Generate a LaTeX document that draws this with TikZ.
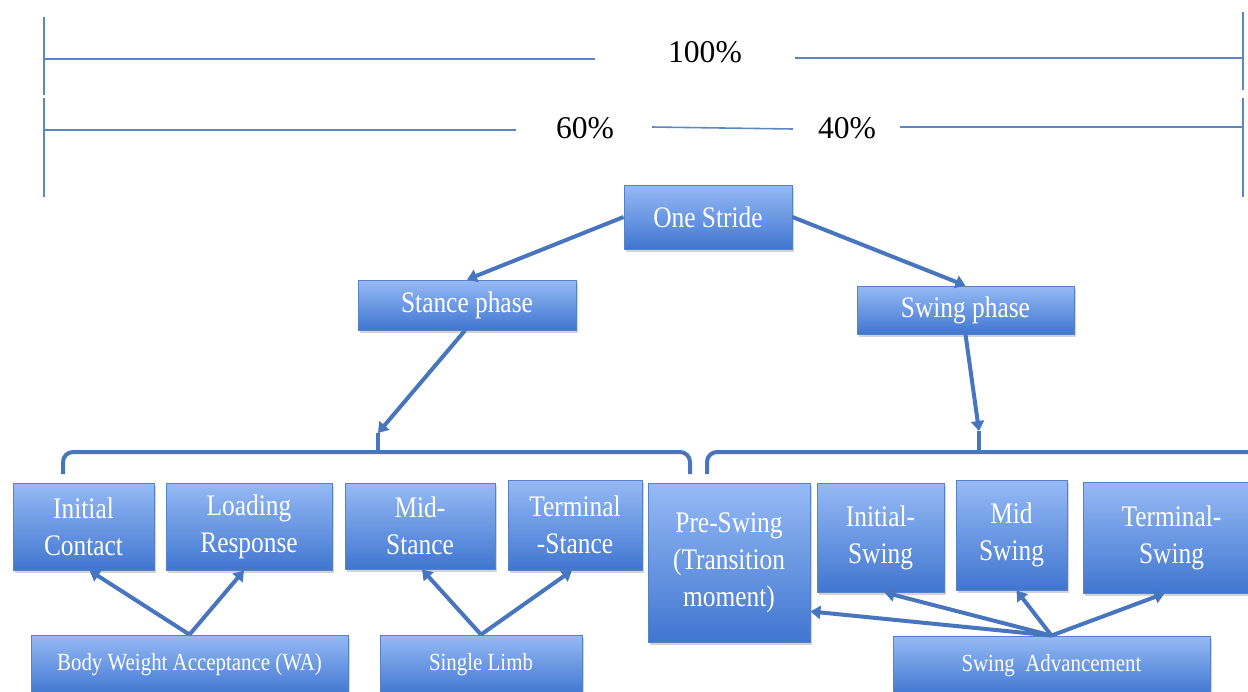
\documentclass[tikz,border=0pt]{standalone}
\usepackage{fontspec}
\setmainfont{Liberation Serif}
\newfontfamily\boxfont[FakeStretch=0.85]{Liberation Serif}
\usetikzlibrary{arrows.meta,shadows,calc}

\definecolor{boxtop}{RGB}{150,186,245}
\definecolor{boxbot}{RGB}{64,118,208}
\definecolor{boxedge}{RGB}{88,130,200}
\definecolor{linkblue}{RGB}{72,118,190}
\definecolor{scaleblue}{RGB}{92,135,195}

\tikzset{
  phasebox/.style={draw=boxedge, line width=0.5pt, top color=boxtop, bottom color=boxbot,
    drop shadow={opacity=0.35, shadow xshift=1pt, shadow yshift=-1.5pt},
    text=white, align=center, inner sep=2pt,
    font=\boxfont\fontsize{17}{21}\selectfont},
  groupbox/.style={phasebox, font=\boxfont\fontsize{14}{17}\selectfont},
  link/.style={draw=linkblue, line width=0.08cm, -{Triangle[width=0.26cm,length=0.2cm]}},
  brace/.style={draw=linkblue, line width=0.08cm, rounded corners=0.2cm},
  scaleline/.style={draw=scaleblue, line width=0.9pt},
  pct/.style={font=\fontsize{18}{21}\selectfont, inner sep=0pt},
}

\begin{document}
\begin{tikzpicture}[x=0.02cm, y=-0.02cm]
    \useasboundingbox (0,0) rectangle (1248,691);

    % Percentage scale
    \draw[scaleline] (44,17) -- (44,95);
    \draw[scaleline] (44,98) -- (44,197);
    \draw[scaleline] (1243,12) -- (1243,90);
    \draw[scaleline] (1243,98) -- (1243,197);
    \draw[scaleline] (44,59) -- (595,59);
    \draw[scaleline] (795,58) -- (1243,58);
    \draw[scaleline] (44,130) -- (516,130);
    \draw[scaleline] (652,127) -- (793,129);
    \draw[scaleline] (900,127) -- (1243,127);
    \node[pct] (full) at (705,52) {100\%};
    \node[pct] (stpct) at (585,128) {60\%};
    \node[pct] (swpct) at (847,128) {40\%};

    % Stride and phases
    \node[phasebox, minimum width=3.36cm, minimum height=1.28cm] (stride) at (708,217) {One Stride};
    \node[phasebox, minimum width=4.36cm, minimum height=1cm] (stance) at (467,305) {Stance phase};
    \node[phasebox, minimum width=4.34cm, minimum height=0.96cm] (swing) at (965.5,310) {Swing phase};

    % Sub-phases
    \node[phasebox, minimum width=2.82cm, minimum height=1.74cm] (ic) at (83.5,526.5) {Initial\\Contact};
    \node[phasebox, minimum width=3.32cm, minimum height=1.74cm] (lr) at (249,526.5) {Loading\\Response};
    \node[phasebox, minimum width=3cm, minimum height=1.72cm] (ms) at (420,526) {Mid-\\Stance};
    \node[phasebox, minimum width=2.68cm, minimum height=1.8cm] (ts) at (575,525) {Terminal\\-Stance};
    \node[phasebox, minimum width=3.24cm, minimum height=3.18cm] (ps) at (729,562.5) {Pre-Swing\\(Transition\\moment)};
    \node[phasebox, minimum width=2.54cm, minimum height=2.18cm] (isw) at (880.5,537.5) {Initial-\\Swing};
    \node[phasebox, minimum width=2.22cm, minimum height=2.2cm] (msw) at (1011.5,535) {Mid\\Swing};
    \node[phasebox, minimum width=3.54cm, minimum height=2.22cm] (tsw) at (1171.5,537.5) {Terminal-\\Swing};

    % Groups
    \node[groupbox, minimum width=6.34cm, minimum height=1.2cm] (bwa) at (189.5,665) {Body Weight Acceptance (WA)};
    \node[groupbox, minimum width=4.04cm, minimum height=1.2cm] (sl) at (481,665) {Single Limb};
    \node[groupbox, minimum width=6.34cm, minimum height=1.18cm] (sa) at (1051.5,665.5) {Swing~~Advancement};

    % Brackets
    \coordinate (stpeak) at (378,433);
    \coordinate (swpeak) at (979,431);
    \draw[brace] (63,474) -- (63,452) -- (690,452) -- (690,474);
    \draw[brace] (378,452) -- (stpeak);
    \draw[brace] (707,474) -- (707,452) -- (1260,452);
    \draw[brace] (979,452) -- (swpeak);

    % Arrows
    \draw[link] (stride.west) -- (stance.north);
    \draw[link] (stride.east) -- (swing.north);
    \draw[link] ($(stance.south)+(-2,0)$) -- (stpeak);
    \draw[link] (swing.south) -- (swpeak);

    \draw[link] (bwa.north) -- ($(ic.south)+(6,0)$);
    \draw[link] (bwa.north) -- ($(lr.south)+(-5,0)$);
    \draw[link] (sl.north) -- ($(ms.south)+(2,0)$);
    \draw[link] (sl.north) -- ($(ts.south)+(-3,0)$);
    \draw[link] (sa.north) -- (ps.-31);
    \draw[link] (sa.north) -- ($(isw.south)+(4,0)$);
    \draw[link] (sa.north) -- ($(msw.south)+(5,0)$);
    \draw[link] (sa.north) -- ($(tsw.south)+(-7,0)$);

\end{tikzpicture}
\end{document}
